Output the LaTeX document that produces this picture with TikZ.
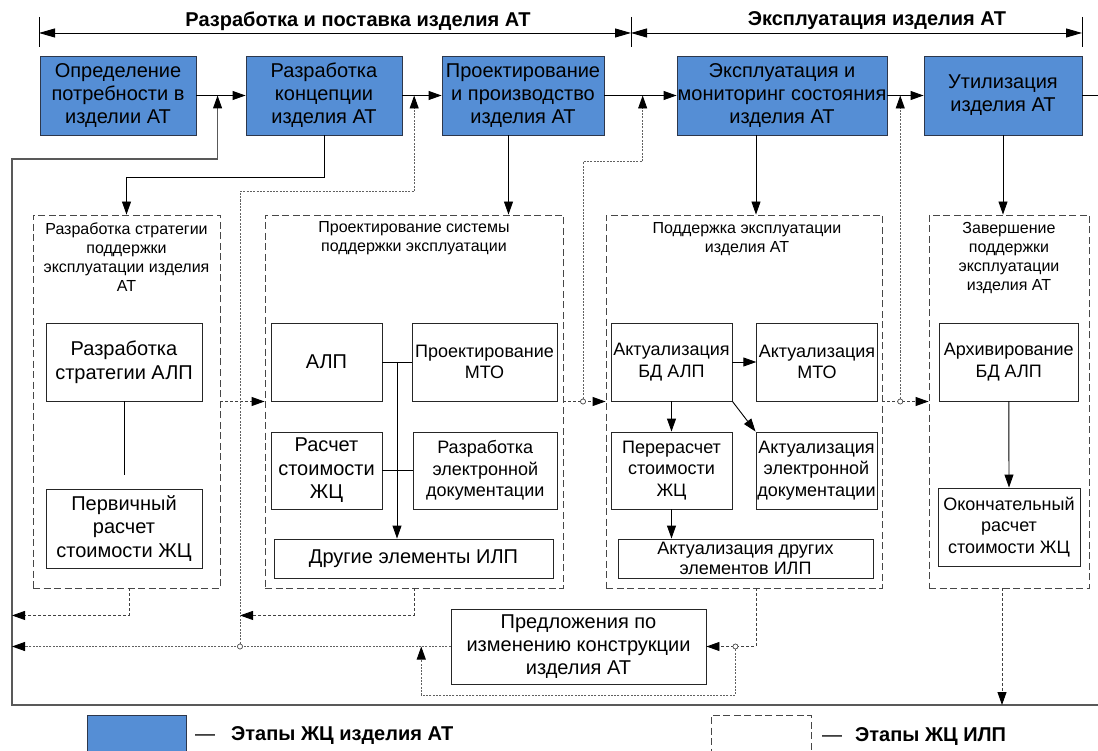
\documentclass[tikz,border=0pt]{standalone}
\usepackage{fontspec}
\setmainfont{Liberation Sans}
\usetikzlibrary{arrows.meta,calc}
\definecolor{stageblue}{RGB}{85,142,213}
\definecolor{stageedge}{RGB}{45,55,75}
\begin{document}
\begin{tikzpicture}[x=1pt,y=-1pt,
  stage/.style={draw=stageedge, fill=stageblue, line width=0.9pt, inner sep=0pt, align=center, font=\fontsize{20}{23}\selectfont},
  group/.style={draw=black!72, dash pattern=on 7pt off 3.5pt, line width=0.9pt, inner sep=0pt},
  task/.style={draw=black!85, line width=0.9pt, inner sep=0pt, align=center, fill=white},
  ftw/.style={font=\fontsize{20}{23.5}\selectfont},
  fei/.style={font=\fontsize{18}{21.5}\selectfont},
  gtitle/.style={align=center, inner sep=0pt, anchor=north, font=\fontsize{16}{19}\selectfont},
  htitle/.style={inner sep=0pt, font=\bfseries\fontsize{20}{23}\selectfont},
  ltitle/.style={inner sep=0pt, anchor=west, font=\bfseries\fontsize{20}{23}\selectfont},
  arr/.style={-{Triangle[length=13pt,width=9pt,black]}},
  harr/.style={{Triangle[length=16pt,width=9pt,black]}-{Triangle[length=16pt,width=9pt,black]}},
  ln/.style={draw=black, line width=0.9pt},
  loopln/.style={draw=black!65, line width=1.1pt},
  dsh/.style={draw=black!75, line width=0.9pt, dash pattern=on 3pt off 2pt},
  dotl/.style={draw=black!62, line width=0.9pt, dash pattern=on 2pt off 1.3pt},
  jn/.style={circle, draw=black!70, fill=white, inner sep=0pt, minimum size=5pt, line width=0.6pt},
]
\useasboundingbox (0,0) rectangle (1098,751);
\clip (0,0) rectangle (1098,751);

% ---------- header ----------
\coordinate (T1a) at (39,17); \coordinate (T1b) at (39,47);
\coordinate (T2a) at (631,17); \coordinate (T2b) at (631,47);
\coordinate (T3a) at (1082,17); \coordinate (T3b) at (1082,47);
\draw[ln] (T1a) -- (T1b);
\draw[ln] (T2a) -- (T2b);
\draw[ln] (T3a) -- (T3b);
\draw[ln, harr] ($(T1a)!0.533!(T1b)$) -- ($(T2a)!0.533!(T2b)$);
\draw[ln, harr] ($(T2a)!0.533!(T2b)$) -- ($(T3a)!0.533!(T3b)$);
\node[htitle] (h1) at (358,21) {Разработка и поставка изделия АТ};
\node[htitle] (h2) at (877,21) {Эксплуатация изделия АТ};

% ---------- stages ----------
\node[stage, minimum width=156pt, minimum height=79pt] (b1) at (118,95.5) {Определение\\потребности в\\изделии АТ};
\node[stage, minimum width=156pt, minimum height=79pt] (b2) at (324,95.5) {Разработка\\концепции\\изделия АТ};
\node[stage, minimum width=162pt, minimum height=79pt] (b3) at (523,95.5) {Проектирование\\и производство\\изделия АТ};
\node[stage, minimum width=210pt, minimum height=79pt] (b4) at (782,95.5) {Эксплуатация и\\мониторинг состояния\\изделия АТ};
\node[stage, minimum width=158pt, minimum height=79pt] (b5) at (1003,95.5) {Утилизация\\изделия АТ};

% ---------- groups ----------
\node[group, minimum width=187pt, minimum height=373pt] (gA) at (126.5,401.5) {};
\node[group, minimum width=298pt, minimum height=373pt] (gB) at (414,401.5) {};
\node[group, minimum width=276pt, minimum height=373pt] (gC) at (744,401.5) {};
\node[group, minimum width=160pt, minimum height=373pt] (gD) at (1009,401.5) {};
\node[gtitle] (tA) at ($(gA.north)+(0,8)$) {Разработка стратегии\\поддержки\\эксплуатации изделия\\АТ};
\node[gtitle] (tB) at ($(gB.north)+(0,7)$) {Проектирование системы\\поддержки эксплуатации};
\node[gtitle] (tC) at ($(gC.north)+(3,8)$) {Поддержка эксплуатации\\изделия АТ};
\node[gtitle] (tD) at ($(gD.north)+(0,8)$) {Завершение\\поддержки\\эксплуатации\\изделия АТ};

% ---------- tasks ----------
\node[task, ftw, minimum width=156pt, minimum height=78pt] (a1) at (124,362) {Разработка\\стратегии АЛП};
\node[task, ftw, minimum width=156pt, minimum height=79pt] (a2) at (124,528.5) {Первичный\\расчет\\стоимости ЖЦ};

\node[task, ftw, minimum width=111pt, minimum height=78pt] (bALP) at (326.5,362) {АЛП};
\node[task, fei, minimum width=145pt, minimum height=78pt] (bMTO) at (484.5,362) {Проектирование\\МТО};
\node[task, ftw, minimum width=111pt, minimum height=77pt] (bRasch) at (326.5,470.5) {Расчет\\стоимости\\ЖЦ};
\node[task, fei, minimum width=143.4pt, minimum height=77pt] (bDoc) at (485.3,470.5) {Разработка\\электронной\\документации};
\node[task, ftw, minimum width=279pt, minimum height=39pt] (bOther) at (413.5,558.5) {Другие элементы ИЛП};

\node[task, fei, minimum width=121pt, minimum height=78pt] (cALP) at (671.5,362) {Актуализация\\БД АЛП};
\node[task, fei, minimum width=120.5pt, minimum height=78pt] (cMTO) at (817,362) {Актуализация\\МТО};
\node[task, fei, minimum width=121pt, minimum height=77pt] (cRe) at (671.5,470.5) {Перерасчет\\стоимости\\ЖЦ};
\node[task, fei, minimum width=121pt, minimum height=77pt] (cDoc) at (816.5,470.5) {Актуализация\\электронной\\документации};
\node[task, font=\fontsize{18}{20}\selectfont, minimum width=255pt, minimum height=39pt] (cOther) at (745.5,558.5) {Актуализация других\\элементов ИЛП};

\node[task, fei, minimum width=139.6pt, minimum height=78pt] (dArc) at (1008.8,362) {Архивирование\\БД АЛП};
\node[task, fei, minimum width=142pt, minimum height=78pt] (dFin) at (1009,527) {Окончательный\\расчет\\стоимости ЖЦ};

\node[task, font=\fontsize{20}{23}\selectfont, minimum width=255pt, minimum height=75pt] (pr) at (578.5,646.5) {Предложения по\\изменению конструкции\\изделия АТ};

% ---------- main flow ----------
\coordinate (Rtop) at (1098,95.5);
\coordinate (Lt) at (12,159);
\coordinate (Lb) at (12,705);
\coordinate (Rb) at (1098,705);
\coordinate (m12) at ($(b1.east)!0.43!(b2.west)$);
\coordinate (m23) at ($(b2.east)!0.3!(b3.west)$);
\coordinate (m34) at ($(b3.east)!0.53!(b4.west)$);
\draw[ln, arr] (b1.east) -- (b2.west);
\draw[ln, arr] (b2.east) -- (b3.west);
\draw[ln, arr] (b3.east) -- (b4.west);
\draw[ln, arr] (b4.east) -- (b5.west);
\draw[ln] (b5.east) -- (Rtop);
\draw[loopln, arr] (Rb) -- (Lb) -- (Lt) -| (m12);

\draw[ln, arr] (b2.south) -- ++(0,42) -| (gA.north);
\draw[ln, arr] ([xshift=-14.5pt]b3.south) -- ([xshift=-14.5pt]b3.south |- gB.north);
\draw[ln, arr] ([xshift=-26pt]b4.south) -- ([xshift=-26pt]b4.south |- gC.north);
\draw[ln, arr] (b5.south) -- (b5.south |- gD.north);

% ---------- inside groups ----------
\draw[ln, shorten >=14pt] (a1.south) -- (a2.north);

\coordinate (jB) at ($(bALP.east)!0.5!(bMTO.west)$);
\draw[ln] (bALP.east) -- (bMTO.west);
\draw[ln, arr] (jB) -- (jB |- bOther.north);
\draw[ln] (bRasch.east) -- (bDoc.west);

\draw[ln, arr] (cALP.east) -- (cMTO.west);
\draw[ln, arr] (cALP.south) -- (cRe.north);
\draw[ln, arr] (cALP.south east) -- (cDoc.north west);
\draw[ln, arr] (cRe.south) -- (cRe.south |- cOther.north);

\draw[ln, arr] (dArc.south) -- (dFin.north);

% ---------- feedback / transfer links ----------
\node[jn] (j1) at (240,646.5) {};
\node[jn] (j2) at ($(gB.east)!0.465!(gC.west)$) {};
\node[jn] (j3) at ($(gC.east)!0.386!(gD.west)$) {};
\node[jn] (j4) at ($(pr.east)+(29,0)$) {};
\coordinate (k5) at ($(pr.west)+(-29.3,0)$);

\draw[dsh, arr] (gA.east) -- (gB.west);
\draw[dsh, arr] (gB.east) -- (gC.west);
\draw[dsh, arr] (gC.east) -- (gD.west);
\draw[dotl, arr] (j2.north) -- ++(0,-237) -| (m34);
\draw[dotl, arr] (j3.north) -- (j3.north |- b4.east);

\draw[dsh, arr] ([xshift=2.5pt]gA.south) -- ++(0,27) coordinate (k1) -- (k1 -| Lt);
\draw[dsh, arr] (gB.south) -- ++(0,27) coordinate (k2) -- (k2 -| j1);
\draw[dotl, arr] (j1.north) -- ++(0,-452) -| (m23);
\draw[dotl, arr] (pr.west) -- (pr.west -| Lt);
\draw[dsh, arr] ([xshift=12pt]gC.south) |- (pr.east);
\draw[dotl, arr] (j4.south) |- ($(k5)+(0,48.5)$) -- (k5);
\draw[dsh, arr] ([xshift=-7pt]gD.south) -- ([xshift=-7pt]gD.south |- Rb);

\node[jn] at (j1) {};
\node[jn] at (j2) {};
\node[jn] at (j3) {};
\node[jn] at (j4) {};

% ---------- legend ----------
\node[fill=stageblue, draw=stageedge, line width=0.9pt, minimum width=99pt, minimum height=50pt, inner sep=0pt] (lg1) at (136.5,740) {};
\node[ltitle] (lt1) at (195,736) {{\mdseries —}\hspace{16pt}Этапы ЖЦ изделия АТ};
\node[group, minimum width=100pt, minimum height=50pt] (lg2) at (761,740) {};
\node[ltitle] (lt2) at (822,737) {{\mdseries —}\hspace{13pt}Этапы ЖЦ ИЛП};
\end{tikzpicture}
\end{document}
